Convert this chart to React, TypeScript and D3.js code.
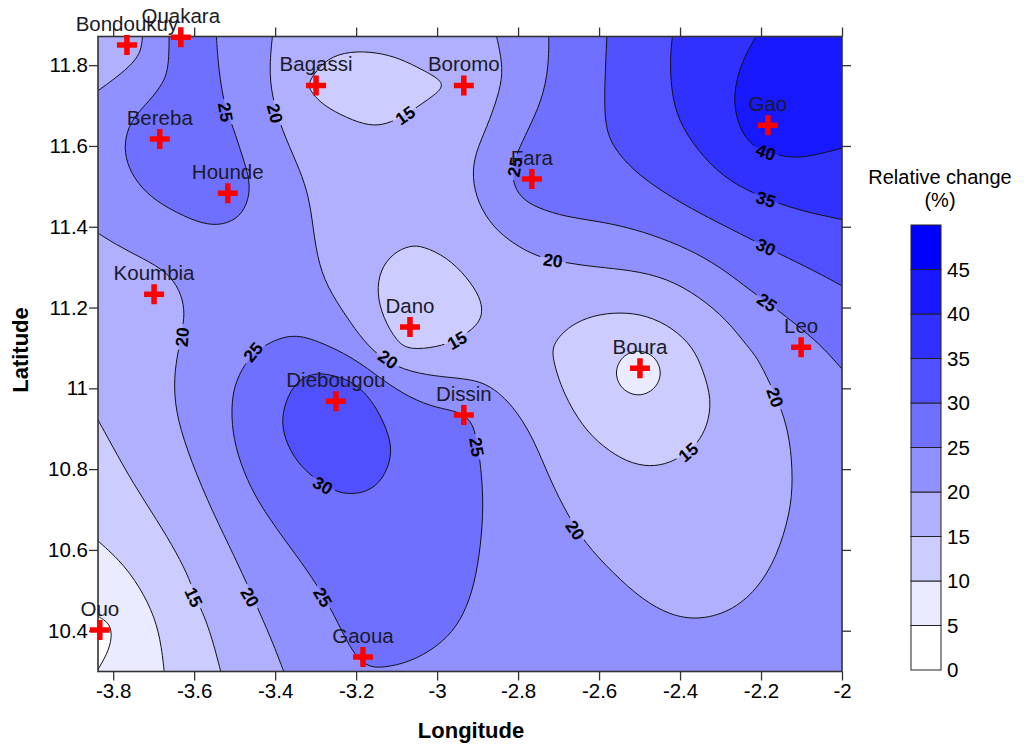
import React, { useEffect, useRef } from 'react';
import * as d3 from 'd3';

type Pt = [number, number];

// contour lines, [longitude, latitude]
const north20: Pt[] = [[-3.405,11.887],[-3.415,11.795],[-3.408,11.721],[-3.383,11.639],[-3.346,11.557],[-3.321,11.491],[-3.309,11.424],[-3.297,11.325],[-3.272,11.251],[-3.223,11.176],[-3.183,11.119],[-3.134,11.070],[-3.067,11.040],[-2.986,11.028],[-2.919,11.023],[-2.869,11.008],[-2.813,10.958],[-2.763,10.879],[-2.721,10.773],[-2.677,10.686],[-2.635,10.617],[-2.566,10.543],[-2.492,10.476],[-2.425,10.439],[-2.358,10.426],[-2.277,10.446],[-2.210,10.501],[-2.161,10.582],[-2.128,10.691],[-2.121,10.773],[-2.128,10.872],[-2.148,10.946],[-2.178,11.013],[-2.210,11.077],[-2.232,11.102],[-2.284,11.169],[-2.351,11.226],[-2.432,11.273],[-2.524,11.293],[-2.605,11.300],[-2.679,11.310],[-2.753,11.325],[-2.813,11.359],[-2.862,11.399],[-2.899,11.458],[-2.914,11.523],[-2.906,11.582],[-2.877,11.647],[-2.850,11.721],[-2.837,11.780],[-2.845,11.837],[-2.857,11.887]];
const bereba25: Pt[] = [[-3.662,11.887],[-3.662,11.795],[-3.677,11.755],[-3.709,11.713],[-3.751,11.671],[-3.771,11.622],[-3.771,11.572],[-3.751,11.523],[-3.709,11.473],[-3.643,11.434],[-3.578,11.406],[-3.529,11.404],[-3.487,11.424],[-3.465,11.466],[-3.462,11.515],[-3.480,11.572],[-3.504,11.647],[-3.519,11.684],[-3.531,11.731],[-3.541,11.805],[-3.546,11.887]];
const bondoukuy20: Pt[] = [[-3.727,11.887],[-3.729,11.837],[-3.751,11.805],[-3.791,11.770],[-3.857,11.723]];
const koumbia20: Pt[] = [[-3.857,11.397],[-3.791,11.354],[-3.727,11.322],[-3.667,11.288],[-3.635,11.243],[-3.623,11.194],[-3.628,11.152],[-3.640,11.090],[-3.650,11.028],[-3.647,10.946],[-3.618,10.847],[-3.568,10.723],[-3.512,10.607],[-3.470,10.518],[-3.438,10.444],[-3.405,10.369],[-3.371,10.278]];
const ouo15: Pt[] = [[-3.857,10.958],[-3.801,10.855],[-3.751,10.765],[-3.692,10.674],[-3.643,10.592],[-3.610,10.525],[-3.598,10.483],[-3.581,10.451],[-3.556,10.384],[-3.529,10.278]];
const ouo10: Pt[] = [[-3.857,10.639],[-3.783,10.575],[-3.734,10.508],[-3.697,10.434],[-3.680,10.360],[-3.672,10.278]];
const ouo5: Pt[] = [[-3.853,10.444],[-3.835,10.434],[-3.812,10.421],[-3.802,10.394],[-3.810,10.352],[-3.835,10.308],[-3.853,10.278]];
const south25: Pt[] = [[-3.438,11.102],[-3.363,11.137],[-3.297,11.119],[-3.208,11.077],[-3.134,11.020],[-3.067,10.976],[-3.000,10.951],[-2.951,10.944],[-2.914,10.921],[-2.902,10.872],[-2.894,10.822],[-2.887,10.748],[-2.887,10.666],[-2.899,10.558],[-2.919,10.476],[-2.951,10.409],[-3.000,10.360],[-3.067,10.322],[-3.134,10.308],[-3.173,10.310],[-3.208,10.345],[-3.240,10.409],[-3.265,10.459],[-3.307,10.530],[-3.363,10.607],[-3.430,10.699],[-3.470,10.773],[-3.499,10.855],[-3.509,10.929],[-3.504,11.003],[-3.475,11.062]];
const diebougou30: Pt[] = [[-3.297,11.038],[-3.257,11.033],[-3.198,11.013],[-3.149,10.954],[-3.116,10.879],[-3.112,10.830],[-3.134,10.773],[-3.173,10.743],[-3.215,10.738],[-3.247,10.743],[-3.282,10.765],[-3.314,10.785],[-3.356,10.830],[-3.381,10.889],[-3.383,10.939],[-3.363,10.996],[-3.331,11.028]];
const bagassi15: Pt[] = [[-3.319,11.750],[-3.307,11.775],[-3.272,11.817],[-3.215,11.835],[-3.149,11.832],[-3.092,11.817],[-3.035,11.788],[-2.988,11.762],[-2.988,11.741],[-3.018,11.718],[-3.079,11.676],[-3.124,11.654],[-3.166,11.649],[-3.223,11.669],[-3.282,11.701],[-3.309,11.731]];
const dano15: Pt[] = [[-3.067,11.354],[-3.035,11.352],[-2.976,11.325],[-2.926,11.275],[-2.894,11.226],[-2.887,11.189],[-2.899,11.156],[-2.951,11.119],[-3.000,11.102],[-3.067,11.095],[-3.099,11.114],[-3.134,11.176],[-3.149,11.236],[-3.141,11.293],[-3.109,11.335]];
const boura15: Pt[] = [[-2.714,11.112],[-2.672,11.156],[-2.615,11.181],[-2.548,11.189],[-2.482,11.181],[-2.417,11.149],[-2.368,11.102],[-2.343,11.045],[-2.321,10.971],[-2.333,10.904],[-2.358,10.864],[-2.380,10.842],[-2.425,10.815],[-2.474,10.805],[-2.531,10.817],[-2.590,10.855],[-2.640,10.904],[-2.689,10.988],[-2.716,11.075]];
const boura10: Pt[] = [[-2.503,11.098],[-2.461,11.080],[-2.443,11.038],[-2.461,10.996],[-2.503,10.978],[-2.545,10.996],[-2.563,11.038],[-2.545,11.080]];
const east25: Pt[] = [[-2.724,11.887],[-2.724,11.795],[-2.741,11.713],[-2.776,11.639],[-2.803,11.582],[-2.813,11.548],[-2.813,11.510],[-2.795,11.473],[-2.753,11.446],[-2.679,11.424],[-2.605,11.414],[-2.531,11.399],[-2.450,11.374],[-2.358,11.335],[-2.284,11.288],[-2.227,11.243],[-2.185,11.213],[-2.153,11.189],[-2.096,11.144],[-2.047,11.102],[-1.980,11.025]];
const east30: Pt[] = [[-2.580,11.887],[-2.585,11.780],[-2.588,11.656],[-2.566,11.597],[-2.516,11.540],[-2.450,11.491],[-2.375,11.446],[-2.284,11.399],[-2.220,11.367],[-2.153,11.332],[-2.072,11.293],[-1.980,11.243]];
const east35: Pt[] = [[-2.417,11.887],[-2.425,11.820],[-2.422,11.738],[-2.405,11.664],[-2.358,11.590],[-2.294,11.523],[-2.220,11.483],[-2.153,11.456],[-2.079,11.434],[-1.980,11.414]];
const east40: Pt[] = [[-2.203,11.887],[-2.247,11.812],[-2.267,11.738],[-2.264,11.681],[-2.245,11.627],[-2.215,11.597],[-2.188,11.585],[-2.136,11.572],[-2.096,11.572],[-2.047,11.582],[-1.980,11.600]];

// band = lower bound of the colour class on the side that gets filled
const contours: { band: number; points: Pt[]; closed?: boolean; corners?: Pt[] }[] = [
    { band: 15, points: north20 },
    { band: 25, points: bereba25 },
    { band: 15, points: bondoukuy20, corners: [[-3.9, 11.95]] },
    { band: 15, points: koumbia20, corners: [[-3.9, 10.2]] },
    { band: 10, points: ouo15, corners: [[-3.9, 10.2]] },
    { band: 5, points: ouo10, corners: [[-3.9, 10.2]] },
    { band: 0, points: ouo5 },
    { band: 25, points: south25, closed: true },
    { band: 30, points: diebougou30, closed: true },
    { band: 10, points: bagassi15, closed: true },
    { band: 10, points: dano15, closed: true },
    { band: 10, points: boura15, closed: true },
    { band: 5, points: boura10, closed: true },
    { band: 25, points: east25, corners: [[-1.9, 11.95]] },
    { band: 30, points: east30, corners: [[-1.9, 11.95]] },
    { band: 35, points: east35, corners: [[-1.9, 11.95]] },
    { band: 40, points: east40, corners: [[-1.9, 11.95]] },
];

const contourLabelValues = [25, 20, 15, 25, 20, 40, 35, 30, 25, 20, 25, 15, 20, 25, 30, 15, 20, 25, 20, 15, 20];
const contourLabelLons = [-3.522, -3.400, -3.079, -2.808, -2.714, -2.188, -2.188, -2.188, -2.185, -3.630, -3.455, -2.951, -3.121, -2.902, -3.282, -3.601, -3.462, -3.282, -2.659, -2.380, -2.165];
const contourLabelLats = [11.684, 11.681, 11.676, 11.548, 11.317, 11.585, 11.468, 11.350, 11.213, 11.127, 11.090, 11.119, 11.072, 10.855, 10.760, 10.483, 10.483, 10.483, 10.649, 10.842, 10.978];
const contourLabelAngles = [80, 75, -35, -80, 8, 20, 18, 25, 35, -85, -50, -30, 35, 80, 30, 65, 60, 60, 55, -40, 70];

const stationNames = ['Bondoukuy', 'Ouakara', 'Bagassi', 'Boromo', 'Bereba', 'Hounde', 'Fara', 'Gao', 'Koumbia', 'Dano', 'Boura', 'Leo', 'Diebougou', 'Dissin', 'Ouo', 'Gaoua'];
const stationLons = [-3.766, -3.633, -3.299, -2.934, -3.685, -3.517, -2.766, -2.183, -3.699, -3.067, -2.499, -2.101, -3.250, -2.934, -3.833, -3.183];
const stationLats = [11.850, 11.869, 11.750, 11.750, 11.617, 11.483, 11.518, 11.651, 11.233, 11.152, 11.050, 11.102, 10.968, 10.934, 10.402, 10.335];

const lonTicks = [-3.8, -3.6, -3.4, -3.2, -3, -2.8, -2.6, -2.4, -2.2, -2];
const latTicks = [10.4, 10.6, 10.8, 11, 11.2, 11.4, 11.6, 11.8];

const legendLevels = [0, 5, 10, 15, 20, 25, 30, 35, 40, 45];
const legendColors = ['#ffffff', '#ebebff', '#ccccff', '#b0b0ff', '#9090ff', '#7070ff', '#5050ff', '#3030ff', '#1818ff', '#0000ff'];

const width = 1024;
const height = 744;
const font = '"Liberation Sans", Arial, sans-serif';

const App: React.FC = () => {
    const svgRef = useRef<SVGSVGElement | null>(null);

    useEffect(() => {
        const svg = d3.select(svgRef.current);
        svg.selectAll('*').remove();

        const left = 98, right = 842, top = 36.5, bottom = 671.5;

        const xScale = d3.scaleLinear().domain([-3.8375, -2]).range([left, right]);
        const yScale = d3.scaleLinear().domain([10.299, 11.871]).range([bottom, top]);
        const color = d3.scaleThreshold<number, string>().domain(legendLevels.slice(1)).range(legendColors);

        const openLine = d3.line<Pt>().x(d => xScale(d[0])).y(d => yScale(d[1])).curve(d3.curveBasis);
        const closedLine = d3.line<Pt>().x(d => xScale(d[0])).y(d => yScale(d[1])).curve(d3.curveBasisClosed);
        const plain = d3.line<Pt>().x(d => xScale(d[0])).y(d => yScale(d[1]));

        const defs = svg.append('defs');
        defs.append('clipPath').attr('id', 'plot-clip').append('rect')
            .attr('x', left).attr('y', top).attr('width', right - left).attr('height', bottom - top);

        // gaps in the contour lines where the labels sit
        const mask = defs.append('mask').attr('id', 'label-gaps').attr('maskUnits', 'userSpaceOnUse')
            .attr('x', 0).attr('y', 0).attr('width', width).attr('height', height);
        mask.append('rect').attr('width', width).attr('height', height).attr('fill', 'white');
        contourLabelValues.forEach((_, i) => {
            mask.append('rect')
                .attr('x', -13).attr('y', -8).attr('width', 26).attr('height', 16).attr('fill', 'black')
                .attr('transform', `translate(${xScale(contourLabelLons[i])},${yScale(contourLabelLats[i])}) rotate(${contourLabelAngles[i]})`);
        });

        const plot = svg.append('g').attr('clip-path', 'url(#plot-clip)');
        plot.append('rect').attr('x', left).attr('y', top).attr('width', right - left).attr('height', bottom - top)
            .attr('fill', color(20));

        contours.forEach(c => {
            let d = c.closed ? closedLine(c.points)! : openLine(c.points)!;
            if (c.corners) d += 'L' + plain(c.corners)!.slice(1);
            plot.append('path').attr('d', c.closed ? d : d + 'Z').attr('fill', color(c.band)).attr('stroke', 'none');
        });

        const lines = plot.append('g').attr('mask', 'url(#label-gaps)');
        contours.forEach(c => {
            lines.append('path')
                .attr('d', c.closed ? closedLine(c.points) : openLine(c.points))
                .attr('fill', 'none').attr('stroke', '#111').attr('stroke-width', 1);
        });

        contourLabelValues.forEach((v, i) => {
            svg.append('text')
                .attr('transform', `translate(${xScale(contourLabelLons[i])},${yScale(contourLabelLats[i])}) rotate(${contourLabelAngles[i]})`)
                .attr('text-anchor', 'middle').attr('dy', '0.36em')
                .attr('font-family', font).attr('font-size', 17.5).attr('font-weight', 'bold')
                .text(v);
        });

        // axes
        const fmt = (d: d3.NumberValue) => String(d);
        const styleAxis = (g: d3.Selection<SVGGElement, unknown, null, undefined>) => {
            g.select('.domain').remove();
            g.selectAll('line').attr('stroke', '#333').attr('stroke-width', 1.3);
            g.selectAll('text').attr('font-family', font).attr('font-size', 20.5).attr('fill', '#000');
        };
        svg.append('g').attr('transform', `translate(0,${bottom})`)
            .call(d3.axisBottom(xScale).tickValues(lonTicks).tickSize(9).tickPadding(3).tickFormat(fmt)).call(styleAxis);
        svg.append('g').attr('transform', `translate(0,${top})`)
            .call(d3.axisTop(xScale).tickValues(lonTicks).tickSize(9).tickFormat(() => '')).call(styleAxis);
        svg.append('g').attr('transform', `translate(${left},0)`)
            .call(d3.axisLeft(yScale).tickValues(latTicks).tickSize(9).tickPadding(1).tickFormat(fmt)).call(styleAxis);
        svg.append('g').attr('transform', `translate(${right},0)`)
            .call(d3.axisRight(yScale).tickValues(latTicks).tickSize(9).tickFormat(() => '')).call(styleAxis);

        svg.append('rect').attr('x', left).attr('y', top).attr('width', right - left).attr('height', bottom - top)
            .attr('fill', 'none').attr('stroke', '#333').attr('stroke-width', 1.6);

        svg.append('text').attr('x', 471).attr('y', 738).attr('text-anchor', 'middle')
            .attr('font-family', font).attr('font-size', 22).attr('font-weight', 'bold').text('Longitude');
        svg.append('text').attr('transform', 'translate(28,350) rotate(-90)').attr('text-anchor', 'middle')
            .attr('font-family', font).attr('font-size', 22).attr('font-weight', 'bold').text('Latitude');

        // stations
        const stations = svg.append('g');
        stationNames.forEach((name, i) => {
            const cx = xScale(stationLons[i]);
            const cy = yScale(stationLats[i]);
            stations.append('text').attr('x', cx).attr('y', cy - 14).attr('text-anchor', 'middle')
                .attr('font-family', font).attr('font-size', 20.5).attr('fill', '#1a1a2a').text(name);
        });
        stationNames.forEach((_, i) => {
            const cx = xScale(stationLons[i]);
            const cy = yScale(stationLats[i]);
            stations.append('path').attr('d', `M${cx - 10},${cy}H${cx + 10}M${cx},${cy - 10}V${cy + 10}`)
                .attr('stroke', '#ff0000').attr('stroke-width', 5.5).attr('fill', 'none');
        });

        // colour scale
        const legendY = d3.scaleLinear().domain([0, 50]).range([670, 225]);
        const legendLeft = 911, legendWidth = 30;
        legendLevels.forEach((lv, i) => {
            svg.append('rect').attr('x', legendLeft).attr('width', legendWidth)
                .attr('y', legendY(lv + 5)).attr('height', legendY(lv) - legendY(lv + 5))
                .attr('fill', legendColors[i]).attr('stroke', '#222').attr('stroke-width', 1);
        });
        svg.append('g').attr('transform', `translate(${legendLeft + legendWidth},0)`)
            .call(d3.axisRight(legendY).tickValues(legendLevels).tickSize(0).tickPadding(6).tickFormat(fmt))
            .call(styleAxis);
        svg.append('text').attr('x', 940).attr('y', 184).attr('text-anchor', 'middle')
            .attr('font-family', font).attr('font-size', 20).attr('fill', '#000').text('Relative change');
        svg.append('text').attr('x', 940).attr('y', 207).attr('text-anchor', 'middle')
            .attr('font-family', font).attr('font-size', 20).attr('fill', '#000').text('(%)');
    }, []);

    return <svg ref={svgRef} width={width} height={height} style={{ position: 'absolute', left: 0, top: 0, background: '#fff' }} />;
};

export default App;
